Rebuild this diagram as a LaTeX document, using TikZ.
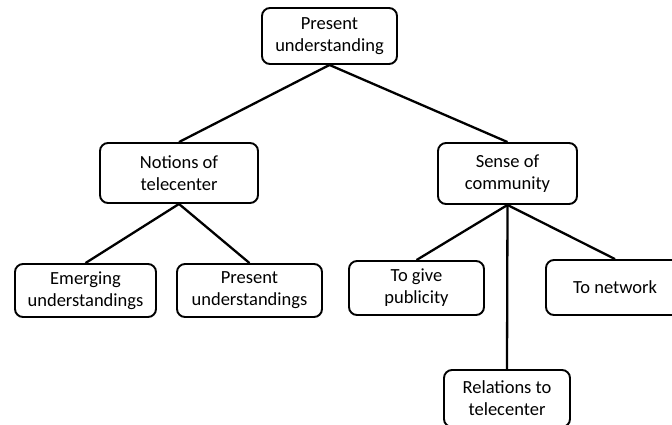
\documentclass[tikz,border=0pt]{standalone}
\usepackage{fontspec}
\setmainfont{Carlito}
\begin{document}
\begin{tikzpicture}[x=1pt,y=-1pt,
  box/.style={draw=black,line width=1.9pt,rounded corners=8pt,fill=white,
    align=center,inner sep=0pt,
    font=\fontsize{18.5}{22}\selectfont,text=black},
  conn/.style={line width=2.3pt,black}]
\useasboundingbox (0,0) rectangle (672,424);
\node[box,minimum width=135pt,minimum height=56pt] (top) at (329.5,36) {Present\\understanding};
\node[box,minimum width=158pt,minimum height=60pt] (notions) at (179,173) {Notions of\\telecenter};
\node[box,minimum width=139pt,minimum height=61pt] (sense) at (507.5,173.5) {Sense of\\community};
\node[box,minimum width=141pt,minimum height=53pt] (emerging) at (85.5,290.5) {Emerging\\understandings};
\node[box,minimum width=145pt,minimum height=53pt] (present) at (249.5,290.5) {Present\\understandings};
\node[box,minimum width=135pt,minimum height=54pt] (publicity) at (416.5,288) {To give\\publicity};
\node[box,minimum width=138pt,minimum height=55pt] (network) at (615,287.5) {To network};
\node[box,minimum width=126pt,minimum height=57pt] (relations) at (507,398.5) {Relations to\\telecenter};
\draw[conn] (top.south) -- (notions.north);
\draw[conn] (top.south) -- (sense.north);
\draw[conn] (notions.south) -- (emerging.north);
\draw[conn] (notions.south) -- (present.north);
\draw[conn] (sense.south) -- (publicity.north);
\draw[conn] (sense.south) -- (network.north);
\draw[conn] (sense.south) -- (relations.north);
\end{tikzpicture}
\end{document}
